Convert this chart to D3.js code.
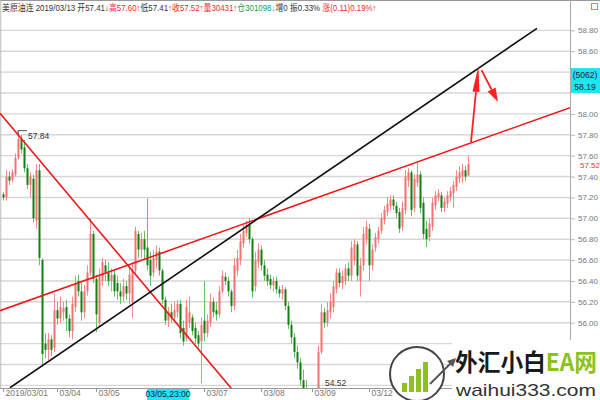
<!DOCTYPE html>
<html>
<head>
<meta charset="utf-8">
<script src="https://cdn.jsdelivr.net/npm/d3@7"></script>
<style>
  html, body { margin: 0; padding: 0; background: #fff; }
  svg { display: block; font-family: "Liberation Sans", "Noto Sans CJK SC", sans-serif; }
</style>
</head>
<body>
<svg id="chart" width="600" height="400"></svg>
<script>
// Hourly bars, 2019/03/01 – 2019/03/13 (one entry per bar, oldest first)
const opens = [
  57.23,57.20,57.40,57.37,57.42,57.58,57.76,57.68,57.48,57.32,57.38,56.98,57.46,56.60,
  55.80,55.74,55.84,55.76,56.12,56.04,56.10,56.15,56.04,55.92,56.15,56.40,56.30,56.10,56.30,56.48,56.85,56.42,56.00,56.40,56.55,56.48,56.40,56.46,56.38,
  56.30,56.25,56.35,56.28,56.20,56.50,56.85,56.70,56.80,56.72,56.60,56.48,56.60,56.68,56.50,56.22,56.02,56.10,56.05,56.10,56.18,55.95,55.85,56.00,56.05,55.95,55.88,55.82,56.02,55.90,56.00,56.20,56.12,56.08,56.30,56.44,56.40,56.30,56.16,
  56.50,56.60,56.76,56.86,56.94,56.80,56.35,56.58,56.70,56.55,56.46,56.42,56.36,56.40,56.32,56.28,56.32,56.16,55.98,55.86,55.72,55.62,55.45,55.10,54.85,54.68,54.60,54.75,
  55.72,56.10,56.00,56.10,56.15,56.32,56.48,56.38,56.40,56.52,56.45,56.60,56.75,56.40,56.55,56.80,56.90,56.55,56.72,56.80,56.88,56.98,57.06,57.12,57.18,57.12,57.06,56.92,57.08,57.36,57.44,57.10,57.34,57.42,57.15,56.90,56.82,56.92,57.12,57.20,57.22,57.10,57.14,57.20,57.24,57.30,57.38,57.40,57.46,57.41
];
const closes = [
  57.20,57.40,57.36,57.44,57.58,57.76,57.66,57.48,57.32,57.40,57.00,57.46,56.62,55.70,
  55.74,55.84,55.74,56.12,56.04,56.15,56.14,56.04,55.92,56.18,56.38,56.30,56.10,56.30,56.48,56.85,56.42,56.08,56.45,56.58,56.48,56.40,56.46,56.30,56.30,
  56.25,56.35,56.28,56.46,56.50,56.88,56.70,56.80,56.70,56.55,56.45,56.62,56.68,56.50,56.22,56.02,56.10,56.05,56.12,56.18,55.90,55.82,56.15,56.10,55.92,55.85,55.80,55.98,55.90,56.02,56.20,56.10,56.08,56.30,56.45,56.40,56.30,56.16,56.55,
  56.62,56.78,56.88,56.94,56.80,56.30,56.60,56.70,56.55,56.45,56.40,56.36,56.40,56.32,56.28,56.32,56.16,55.98,55.86,55.72,55.62,55.45,55.10,54.85,54.68,54.62,54.72,55.72,
  56.10,56.00,56.12,56.20,56.35,56.48,56.38,56.45,56.52,56.45,56.72,56.75,56.45,56.55,56.85,56.92,56.55,56.70,56.82,56.88,57.00,57.08,57.14,57.18,57.12,57.05,56.90,57.10,57.40,57.44,57.08,57.38,57.42,57.10,56.85,56.80,56.95,57.15,57.22,57.24,57.10,57.16,57.22,57.26,57.32,57.40,57.44,57.46,57.40,57.52
];
const highs = [
  57.25,57.46,57.45,57.47,57.62,57.84,57.80,57.75,57.52,57.44,57.42,57.52,57.52,56.62,
  55.90,55.90,55.88,56.28,56.20,56.25,56.20,56.22,56.08,56.25,56.45,56.46,56.38,56.36,56.55,57.00,56.88,56.46,56.52,56.62,56.60,56.58,56.52,56.50,56.45,
  56.38,56.42,56.40,56.55,56.58,56.92,56.88,56.86,56.88,57.19,56.68,56.70,56.74,56.72,56.52,56.25,56.15,56.18,56.20,56.22,56.22,56.02,56.22,56.25,56.08,56.00,55.92,56.05,56.40,56.08,56.28,56.24,56.20,56.35,56.50,56.48,56.44,56.32,56.62,
  56.70,56.85,56.94,56.98,57.00,56.82,56.68,56.76,56.74,56.60,56.52,56.46,56.44,56.44,56.35,56.36,56.34,56.20,56.02,55.90,55.78,55.66,55.55,55.45,54.90,54.74,54.80,55.78,
  56.18,56.14,56.20,56.28,56.40,56.52,56.52,56.50,56.56,56.58,56.78,56.80,56.78,56.62,56.92,56.98,56.95,56.75,56.86,56.92,57.05,57.12,57.20,57.22,57.22,57.16,57.10,57.16,57.46,57.48,57.46,57.42,57.53,57.45,57.20,56.98,57.00,57.20,57.26,57.28,57.25,57.20,57.26,57.30,57.36,57.46,57.50,57.52,57.50,57.60
];
const lows = [
  57.17,57.17,57.32,57.34,57.40,57.56,57.62,57.44,57.28,57.20,56.96,56.90,56.55,55.58,
  55.66,55.64,55.68,55.72,55.98,56.00,56.02,55.92,55.86,55.84,56.10,56.25,56.02,56.04,56.26,56.45,56.38,55.91,55.96,56.35,56.40,56.35,56.30,56.25,56.22,
  56.18,56.20,56.22,56.18,56.05,56.45,56.62,56.62,56.60,56.50,56.35,56.44,56.52,56.45,56.18,55.98,55.96,56.00,56.00,56.05,55.85,55.78,55.82,55.95,55.88,55.80,55.76,55.42,55.82,55.86,55.96,56.05,56.02,56.05,56.28,56.36,56.25,56.10,56.12,
  56.45,56.55,56.72,56.82,56.76,56.24,56.30,56.52,56.50,56.40,56.35,56.32,56.30,56.28,56.24,56.22,56.12,55.94,55.80,55.66,55.56,55.40,55.00,54.75,54.60,54.55,54.52,54.70,
  55.70,55.95,55.96,56.04,56.10,56.28,56.34,56.32,56.36,56.40,56.40,56.55,56.40,56.25,56.50,56.75,56.40,56.50,56.68,56.76,56.85,56.94,57.02,57.08,57.08,57.00,56.86,56.88,57.04,57.30,57.02,57.06,57.30,57.05,56.80,56.72,56.78,56.88,57.08,57.16,57.06,57.06,57.10,57.16,57.10,57.26,57.34,57.34,57.36,57.41
];

// Date ticks along the time axis: bar index and label
const tickIndex = [0, 18, 31, 67, 86, 103, 122];
const tickLabels = ["2019/03/01", "03/04", "03/05", "03/07", "03/08", "03/09", "03/12"];

// Price axis labels and grid levels
const priceLabels = d3.range(280, 295).map(v => v / 5);   // 56.00 … 58.80
const gridLevels  = d3.range(277, 295).map(v => v / 5);   // 55.40 … 58.80

// Hand-drawn trend lines, endpoints as [bar index, price]
const blackTrend  = [[2.33, 55.377], [178, 58.82]];
const redRising   = [[-1, 56.115], [189, 58.06]];
const redFalling  = [[-1, 58.006], [77, 55.34]];
// Annotation arrows [from, to]
const arrowUp   = [[156, 57.73], [158.5, 58.46]];
const arrowDown = [[159.5, 58.42], [165, 58.115]];

// Marked extremes and cursor readouts
const markedHigh = { index: 5, price: 57.84 };
const markedLow  = { index: 105, price: 54.52 };
const lastPrice  = 57.52;
const cursorPrice = 58.19, cursorCount = 5062;
const cursorIndex = 55, cursorLabel = "03/05,23:00";

const svg = d3.select("#chart");
const W = 600, H = 400;
const plot = { left: 0, right: 570, top: 18, bottom: 388 };

const N = opens.length;
const x = d3.scaleLinear().domain([0, N - 1]).range([3, 468]);
const y = d3.scaleLinear().domain([56, 58.8]).range([322.7, 30.4]);

svg.append("rect").attr("width", W).attr("height", H).attr("fill", "#fff");

svg.append("defs").append("clipPath").attr("id", "plotClip")
  .append("rect")
  .attr("x", plot.left).attr("y", plot.top)
  .attr("width", plot.right - plot.left).attr("height", plot.bottom - plot.top);

// grid
svg.append("g").selectAll("line").data(gridLevels).join("line")
  .attr("x1", plot.left).attr("x2", plot.right)
  .attr("y1", d => y(d)).attr("y2", d => y(d))
  .attr("stroke", "#d6d6d6").attr("stroke-width", 1.4);

// frame
svg.append("line").attr("x1", 0).attr("x2", W).attr("y1", 0.5).attr("y2", 0.5).attr("stroke", "#999");
svg.append("line").attr("x1", 0.8).attr("x2", 0.8).attr("y1", 0).attr("y2", plot.bottom).attr("stroke", "#bbb");
svg.append("line").attr("x1", plot.right + 0.5).attr("x2", plot.right + 0.5).attr("y1", 0).attr("y2", H).attr("stroke", "#aaa");

// candles
const bars = d3.range(N).map(i => ({ i, o: opens[i], h: highs[i], l: lows[i], c: closes[i] }));
const cg = svg.append("g").attr("clip-path", "url(#plotClip)");
const up = d => d.c >= d.o;
cg.selectAll("line.wick").data(bars).join("line")
  .attr("class", "wick")
  .attr("x1", d => x(d.i) + 0.5).attr("x2", d => x(d.i) + 0.5)
  .attr("y1", d => y(d.h)).attr("y2", d => y(d.l))
  .attr("stroke", d => up(d) ? "#f48a8a" : "#6dbb6d").attr("stroke-width", 1);
cg.selectAll("rect.body").data(bars).join("rect")
  .attr("class", "body")
  .attr("x", d => x(d.i) - 0.5).attr("width", 2)
  .attr("y", d => y(Math.max(d.o, d.c)))
  .attr("height", d => Math.max(1, Math.abs(y(d.o) - y(d.c))))
  .attr("fill", d => up(d) ? "#f27272" : "#118011");

// trend lines
const lineGen = d3.line().x(d => x(d[0])).y(d => y(d[1]));
const tg = svg.append("g").attr("clip-path", "url(#plotClip)");
tg.append("path").attr("d", lineGen(redFalling)).attr("stroke", "#f01818").attr("stroke-width", 1.6).attr("fill", "none");
tg.append("path").attr("d", lineGen(redRising)).attr("stroke", "#f01818").attr("stroke-width", 1.6).attr("fill", "none");
tg.append("path").attr("d", lineGen(blackTrend)).attr("stroke", "#111").attr("stroke-width", 1.6).attr("fill", "none");

// arrows
function arrow(seg, headLen, headW) {
  const x0 = x(seg[0][0]), y0 = y(seg[0][1]), x1 = x(seg[1][0]), y1 = y(seg[1][1]);
  const dx = x1 - x0, dy = y1 - y0, len = Math.hypot(dx, dy);
  const ux = dx / len, uy = dy / len;
  const bx = x1 - ux * headLen, by = y1 - uy * headLen;
  svg.append("line").attr("x1", x0).attr("y1", y0).attr("x2", bx).attr("y2", by)
    .attr("stroke", "#f22").attr("stroke-width", 1.8);
  svg.append("path")
    .attr("d", `M${x1},${y1}L${bx - uy * headW / 2},${by + ux * headW / 2}L${bx + uy * headW / 2},${by - ux * headW / 2}Z`)
    .attr("fill", "#f22");
}
arrow(arrowUp, 26, 7);
arrow(arrowDown, 14, 9);

// marked high / low
const hx = x(markedHigh.index), hy = y(markedHigh.price);
svg.append("path").attr("d", `M${hx},${hy + 5}V${hy}H${hx + 9}`).attr("stroke", "#555").attr("fill", "none");
svg.append("text").attr("x", hx + 10).attr("y", hy + 8).attr("font-size", 8.5).attr("fill", "#333")
  .text(markedHigh.price.toFixed(2));
svg.append("text").attr("x", x(markedLow.index) + 7).attr("y", plot.bottom - 2).attr("font-size", 8.5).attr("fill", "#333")
  .text(markedLow.price.toFixed(2));

// cursor readout box on the price axis
const cy = y(cursorPrice);
const boxTop = cy - 26, boxBottom = cy - 1;

// price axis (labels hidden behind the readout box are left out)
const yAxis = d3.axisRight(y)
  .tickValues(priceLabels.filter(v => y(v) < boxTop - 3 || y(v) > boxBottom + 3))
  .tickFormat(d3.format(".2f")).tickSize(4).tickPadding(3);
const ya = svg.append("g").attr("transform", `translate(${plot.right + 1},0)`).call(yAxis);
ya.select(".domain").remove();
ya.selectAll(".tick line").attr("stroke", "#bbb");
ya.selectAll(".tick text").attr("fill", "#777").attr("font-size", 8).attr("font-family", "Liberation Sans, sans-serif");

// last price tag
svg.append("text").attr("x", 580).attr("y", y(lastPrice) + 4).attr("font-size", 8).attr("fill", "#f03030").text(lastPrice.toFixed(2));

svg.append("rect").attr("x", plot.right + 1).attr("y", boxTop).attr("width", W - plot.right - 1).attr("height", boxBottom - boxTop).attr("fill", "#1ee6ee");
svg.append("text").attr("x", 585).attr("y", cy - 16).attr("text-anchor", "middle").attr("font-size", 8.5).attr("fill", "#102040").text(`(${cursorCount})`);
svg.append("text").attr("x", 585).attr("y", cy - 4).attr("text-anchor", "middle").attr("font-size", 8.5).attr("fill", "#102040").text(cursorPrice.toFixed(2));

// time axis
const xAxis = d3.axisBottom(x).tickValues(tickIndex).tickFormat((d, i) => tickLabels[i]).tickSize(4).tickPadding(1);
const xa = svg.append("g").attr("transform", `translate(0,${plot.bottom})`).call(xAxis);
xa.select(".domain").attr("stroke", "#999").attr("d", `M${plot.left},0.5H${plot.right}`);
xa.selectAll(".tick line").attr("stroke", "#999");
xa.selectAll(".tick text").attr("text-anchor", "start").attr("dx", 2).attr("y", 2).attr("dy", "0.71em").attr("fill", "#777")
  .attr("font-size", 8.5).attr("font-family", "Liberation Sans, sans-serif");

// cursor readout on the time axis
const cx = x(cursorIndex);
svg.append("rect").attr("x", cx - 21).attr("y", plot.bottom + 1).attr("width", 42).attr("height", 11).attr("fill", "#1ee6ee");
svg.append("text").attr("x", cx).attr("y", plot.bottom + 9).attr("text-anchor", "middle").attr("font-size", 8.5).attr("fill", "#102040").text(cursorLabel);

// quote header, set in one line and narrowed to fit the strip
const RED = "#ee2a2a", DARK = "#333", GREEN = "#1f9a3a";
const header = [
  ["美原油连 2019/03/13 开57.41↓", DARK], ["高57.60↑", RED], ["低57.41", DARK], ["↑", RED],
  ["收57.52↑", RED], ["量30431↑", RED], ["仓301098↓", GREEN],
  ["增0 振0.33% ", DARK], ["涨(0.11)0.19%↑", RED]
];
const hg = svg.append("g");
const ht = hg.append("text").attr("x", 0).attr("y", 11.5).attr("font-size", 9);
ht.selectAll("tspan").data(header).join("tspan").attr("fill", d => d[1]).text(d => d[0]);
const natural = ht.node().getComputedTextLength();
hg.attr("transform", `translate(2,0) scale(${375 / natural},1)`);
svg.append("rect").attr("x", 591.5).attr("y", 3.5).attr("width", 6).attr("height", 6).attr("fill", "none").attr("stroke", "#f08040");

// site mark
const wm = svg.append("g");
wm.append("rect").attr("x", 452).attr("y", 340).attr("width", 148).attr("height", 60).attr("fill", "#fff");
wm.append("circle").attr("cx", 417).attr("cy", 374).attr("r", 27).attr("fill", "#fff").attr("stroke", "#444").attr("stroke-width", 2);
[[402, 383], [409, 376], [416, 369], [423, 362]].forEach(b => {
  wm.append("rect").attr("x", b[0]).attr("y", b[1]).attr("width", 5).attr("height", 392 - b[1]).attr("fill", "#8cc21e");
});
wm.append("path").attr("d", "M430,384L454,360").attr("stroke", "#555").attr("stroke-width", 2);
wm.append("path").attr("d", "M456,358L447,361L453,367Z").attr("fill", "#555");
const wt = wm.append("text").attr("x", 455).attr("y", 371).attr("font-size", 24).attr("font-weight", "bold")
  .attr("font-family", "Noto Sans CJK SC, sans-serif")
  .attr("textLength", 142).attr("lengthAdjust", "spacingAndGlyphs");
wt.append("tspan").attr("fill", "#1a1a1a").text("外汇小白");
wt.append("tspan").attr("fill", "#8cc21e").text("EA网");
wm.append("text").attr("x", 456).attr("y", 396).attr("font-size", 17).attr("fill", "#333")
  .attr("font-family", "Liberation Sans, sans-serif")
  .attr("textLength", 140).attr("lengthAdjust", "spacingAndGlyphs").text("waihui333.com");
</script>
</body>
</html>
